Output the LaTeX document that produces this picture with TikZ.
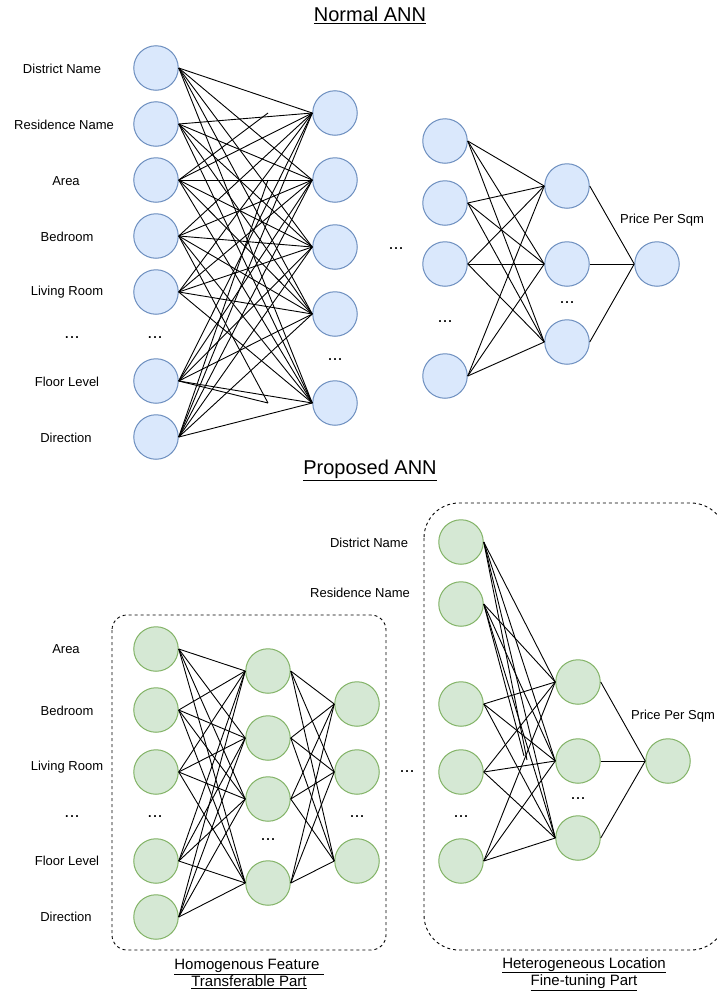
\documentclass[tikz,border=0pt]{standalone}
\usepackage{fontspec}
\setmainfont{Liberation Sans}
\definecolor{bfill}{HTML}{DAE8FC}
\definecolor{bline}{HTML}{6C8EBF}
\definecolor{gfill}{HTML}{D5E8D4}
\definecolor{gline}{HTML}{82B366}
\tikzset{
  bn/.style={circle, draw=bline, fill=bfill, line width=1pt, minimum size=44.5pt, inner sep=0pt},
  gn/.style={circle, draw=gline, fill=gfill, line width=1pt, minimum size=44.5pt, inner sep=0pt},
  conn/.style={draw=black, line width=0.9pt},
  lab/.style={inner sep=0pt, font=\fontsize{13}{15}\selectfont},
  dots/.style={inner sep=0pt, font=\fontsize{18}{20}\selectfont},
  ttl/.style={inner sep=0pt, font=\fontsize{20}{24}\selectfont},
  sub/.style={inner sep=0pt, align=center, font=\fontsize{15}{17.5}\selectfont},
  dbox/.style={draw=black, line width=0.9pt, dash pattern=on 3pt off 3pt}
}
\begin{document}
\begin{tikzpicture}[x=1pt,y=-1pt]
\useasboundingbox (0,0) rectangle (717,996);
\clip (0,0) rectangle (717,996);
\fill[white] (0,0) rectangle (717,996);

% ---------- Titles ----------
\node[ttl] (t1) at (370,15) {\underline{Normal ANN}};
\node[ttl] (t2) at (370,470) {\underline{Proposed ANN}};

% ---------- Top-left network ----------
\foreach \n/\y in {1/68,2/124,3/180,4/236,5/292,6/381,7/437}
  \node[bn] (a\n) at (156,\y) {};
\foreach \n/\y in {1/113,2/180,3/247,4/314,5/403}
  \node[bn] (b\n) at (335,\y) {};
\node[dots] (ad) at (155,338) {...};
\node[dots] (bd) at (335,360) {...};

\node[lab] (la1) at (62,69) {District Name};
\node[lab] (la2) at (64,125) {Residence Name};
\node[lab] (la3) at (66,181) {Area};
\node[lab] (la4) at (67,237) {Bedroom};
\node[lab] (la5) at (67,292) {Living Room};
\node[dots] (lad) at (72,338) {...};
\node[lab] (la6) at (67,382) {Floor Level};
\node[lab] (la7) at (66,438) {Direction};

\foreach \i in {1,...,7}
  \foreach \j in {1,...,5}
    \draw[conn] (a\i.east) -- (b\j.west);
\coordinate (s1) at (268,113);
\coordinate (s2) at (268,180);
\coordinate (s3) at (268,403);
\draw[conn] (a3.east) -- (s1);
\draw[conn] (a7.east) -- (s2);
\draw[conn] (a4.east) -- (s3);
\draw[conn] (a6.east) -- (s3);

\node[dots] (mid1) at (396,249) {...};

% ---------- Top-right network ----------
\foreach \n/\y in {1/141,2/203,3/264,4/376}
  \node[bn] (c\n) at (445,\y) {};
\foreach \n/\y in {1/186,2/264,3/342}
  \node[bn] (d\n) at (567,\y) {};
\node[bn] (o1) at (657,264) {};
\node[dots] (cd) at (445,322) {...};
\node[dots] (dd) at (567,303) {...};
\node[lab] (lo1) at (662,220) {Price Per Sqm};
\foreach \i in {1,...,4}
  \foreach \j in {1,...,3}
    \draw[conn] (c\i.east) -- (d\j.west);
\foreach \j in {1,...,3}
  \draw[conn] (d\j.east) -- (o1.west);

% ---------- Bottom-left network ----------
\draw[dbox, rounded corners=15pt] (112,615) rectangle (386,950);
\foreach \n/\y in {1/649,2/710,3/772,4/861,5/917}
  \node[gn] (e\n) at (156,\y) {};
\foreach \n/\y in {1/671,2/738,3/799,4/883}
  \node[gn] (f\n) at (268,\y) {};
\foreach \n/\y in {1/704,2/772,3/861}
  \node[gn] (g\n) at (357,\y) {};
\node[dots] (ed) at (155,817) {...};
\node[dots] (fd) at (268,840) {...};
\node[dots] (gd) at (357,817) {...};

\node[lab] (le1) at (66,649) {Area};
\node[lab] (le2) at (67,711) {Bedroom};
\node[lab] (le3) at (67,767) {Living Room};
\node[dots] (led) at (72,817) {...};
\node[lab] (le4) at (67,861) {Floor Level};
\node[lab] (le5) at (66,917) {Direction};

\foreach \i in {1,...,5}
  \foreach \j in {1,...,4}
    \draw[conn] (e\i.east) -- (f\j.west);
\foreach \i in {1,...,4}
  \foreach \j in {1,...,3}
    \draw[conn] (f\i.east) -- (g\j.west);

\node[sub] (sb1) at (249,974) {\underline{Homogenous Feature~}\\\underline{Transferable Part}};

\node[dots] (mid2) at (407,772) {...};

% ---------- Bottom-right network ----------
\draw[dbox, rounded corners=35pt] (424,503) rectangle (726,950);
\foreach \n/\y in {1/542,2/604,3/704,4/772,5/861}
  \node[gn] (h\n) at (461,\y) {};
\foreach \n/\y in {1/682,2/761,3/838}
  \node[gn] (k\n) at (578,\y) {};
\node[gn] (o2) at (668,761) {};
\node[dots] (hd) at (461,817) {...};
\node[dots] (kd) at (578,799) {...};

\node[lab] (lh1) at (369,543) {District Name};
\node[lab] (lh2) at (360,593) {Residence Name};
\node[lab] (lo2) at (673,716) {Price Per Sqm};

\foreach \i in {1,...,5}
  \foreach \j in {1,...,3}
    \draw[conn] (h\i.east) -- (k\j.west);
\foreach \j in {1,...,3}
  \draw[conn] (k\j.east) -- (o2.west);
\coordinate (s4) at (527,760);
\coordinate (s5) at (524,756);
\draw[conn] (h1.east) -- (s4);
\draw[conn] (h2.east) -- (s5);

\node[sub] (sb2) at (584,974) {\underline{Heterogeneous Location}\\\underline{Fine-tuning Part}};
\end{tikzpicture}
\end{document}
